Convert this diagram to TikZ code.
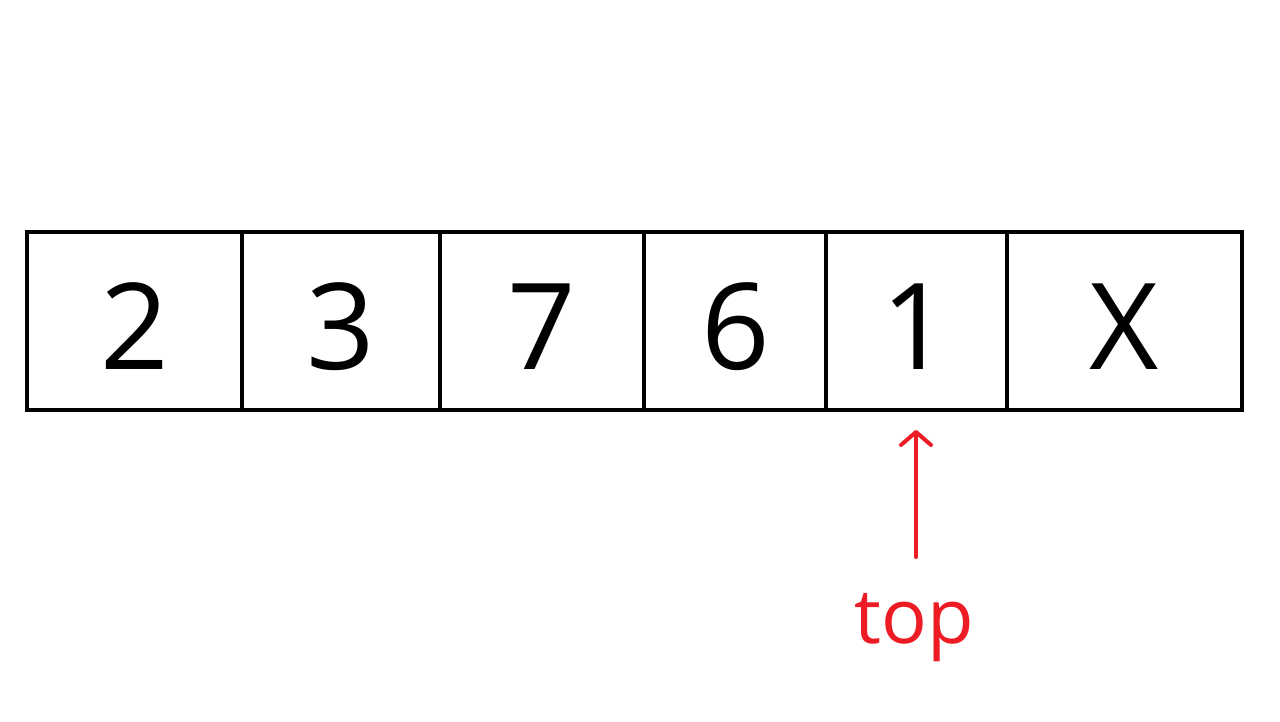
\documentclass[tikz,border=0pt]{standalone}
\usepackage{fontspec}
\setmainfont{Open Sans}
\usetikzlibrary{arrows.meta}
\definecolor{topred}{HTML}{ED1C24}
\tikzset{
  cell/.style={draw=black, line width=4pt, minimum height=178pt, inner sep=0pt, outer sep=0pt, anchor=north west},
  digit/.style={font=\fontsize{120}{130}\selectfont, anchor=base, text=black},
  pointer/.style={draw=topred, line width=4pt, line cap=round, -{Straight Barb[length=13pt, width=30pt, line width=4pt, round]}}
}
\begin{document}
\begin{tikzpicture}[x=1pt, y=-1pt]
\useasboundingbox (0,0) rectangle (1280,722);
\node[cell, minimum width=215pt] (c1) at (27,232) {};
\node[cell, minimum width=198pt] (c2) at (242,232) {};
\node[cell, minimum width=204pt] (c3) at (440,232) {};
\node[cell, minimum width=182pt] (c4) at (644,232) {};
\node[cell, minimum width=181pt] (c5) at (826,232) {};
\node[cell, minimum width=235pt] (c6) at (1007,232) {};
\node[digit] (d1) at (135,369) {2};
\node[digit] (d2) at (341,369) {3};
\node[digit] (d3) at (542,369) {7};
\node[digit] (d4) at (736,369) {6};
\node[digit] (d5) at (916,369) {1};
\node[digit] (d6) at (1124,369) {X};
\node[font=\fontsize{76}{84}\selectfont, text=topred, anchor=base] (top) at (914,643) {top};
\coordinate (tail) at (916,557);
\coordinate (head) at (916,430);
\draw[pointer] (tail) -- (head);
\end{tikzpicture}
\end{document}
